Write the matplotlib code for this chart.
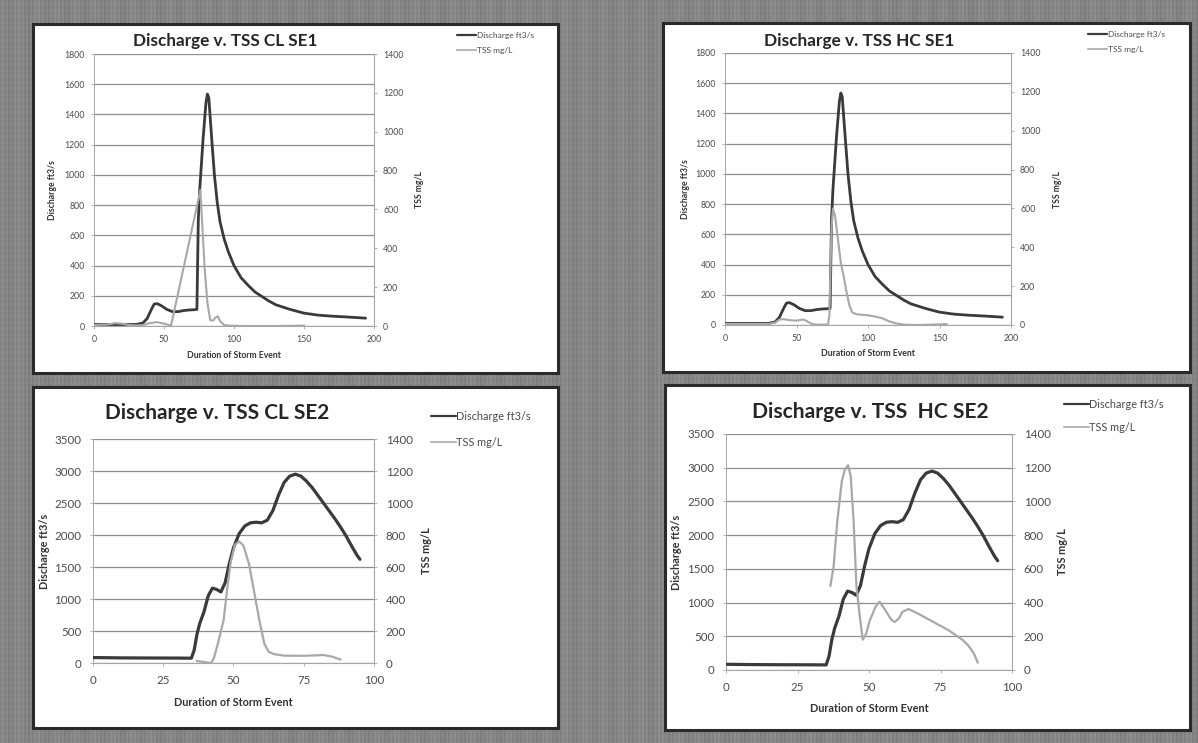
import numpy as np
import matplotlib
matplotlib.use("Agg")
import matplotlib.pyplot as plt
from matplotlib.patches import Rectangle

plt.rcParams['font.family'] = ['Lato', 'DejaVu Sans']

# ---------------- data ----------------
se1_time = [0, 15, 30, 35, 38, 41, 43, 45, 48, 52, 56, 60, 64, 68, 72, 73.5, 74.5, 75.5,
            78, 80, 81, 82, 84, 86, 88, 90, 93, 96, 100, 105, 110, 115, 120, 125, 130,
            140, 150, 160, 170, 180, 194]
se1_discharge = [10, 10, 10, 20, 50, 110, 145, 148, 135, 110, 95, 95, 102, 106, 108, 110, 700, 900,
                 1250, 1480, 1535, 1510, 1250, 1000, 820, 690, 575, 490, 400, 320, 270, 225, 195, 165, 140,
                 110, 85, 72, 65, 60, 52]

cl_se1_tss_time = [0, 10, 15, 20, 25, 30, 35, 40, 45, 50, 55, 60, 65, 70, 74, 76, 77.5, 79, 81,
                   83, 85, 87, 88.5, 90, 93, 96, 110, 130, 150]
cl_se1_tss = [5, 8, 15, 12, 5, 3, 5, 15, 20, 12, 2, 167, 333, 500, 633, 700, 500, 300, 120,
              30, 28, 45, 50, 25, 5, 2, 0, 0, 2]

hc_se1_tss_time = [0, 10, 20, 30, 35, 38, 41, 45, 50, 54, 56, 60, 63, 72, 73, 74.5, 75.5, 77,
                   79, 81, 83, 85, 87, 89, 92, 100, 106, 110, 115, 120, 125, 135, 150, 155]
hc_se1_tss = [5, 5, 5, 5, 12, 28, 30, 25, 22, 28, 25, 8, 2, 2, 50, 500, 600, 560,
              440, 320, 250, 170, 100, 65, 55, 50, 42, 35, 18, 8, 2, 0, 3, 5]

se2_time = [0, 10, 20, 30, 35, 36, 37, 38, 39.5, 41, 42.5, 44, 45.5, 47, 48.5, 50, 52, 54, 56,
            58, 60, 62, 64, 66, 68, 70, 72, 74, 76, 78, 80, 82, 84, 86, 88, 90, 92, 94, 95]
se2_discharge = [85, 80, 78, 77, 75, 200, 450, 620, 800, 1050, 1170, 1150, 1110, 1250, 1550, 1800,
                 2020, 2140, 2190, 2200, 2190, 2230, 2380, 2620, 2820, 2920, 2950, 2920, 2840, 2740,
                 2620, 2500, 2380, 2260, 2130, 1990, 1830, 1680, 1620]

cl_se2_tss_time = [37, 39, 41, 42, 43, 44.5, 46.5, 48, 49, 50.5, 52, 53.5, 55.5, 57.5, 59.5, 61,
                   62.5, 64.5, 68, 75, 80, 82, 85, 88]
cl_se2_tss = [12, 8, 2, 0, 30, 125, 270, 500, 630, 740, 760, 735, 620, 430, 240, 120,
              70, 55, 46, 45, 48, 50, 40, 22]

hc_se2_tss_time = [36.5, 37.6, 38.9, 40.5, 41.6, 42.7, 43.6, 44.6, 45.6, 46.7, 47.8, 49, 50.3,
                   52.3, 53.7, 55.7, 57.7, 59, 60.4, 61.7, 63.8, 67.1, 72.5, 77.9, 82.6, 84.6,
                   86.6, 88]
hc_se2_tss = [500, 610, 880, 1120, 1190, 1215, 1150, 890, 500, 330, 180, 215, 295,
              375, 405, 355, 300, 285, 305, 345, 362, 335, 285, 235, 180, 148, 100, 45]

titles = ["Discharge v. TSS CL SE1", "Discharge v. TSS HC SE1",
          "Discharge v. TSS CL SE2", "Discharge v. TSS  HC SE2"]
legend_labels = ["Discharge ft3/s", "TSS mg/L"]
x_label = "Duration of Storm Event"
left_label = "Discharge ft3/s"
right_label = "TSS mg/L"

se1_xticks = [0, 50, 100, 150, 200]
se1_lticks = [0, 200, 400, 600, 800, 1000, 1200, 1400, 1600, 1800]
se2_xticks = [0, 25, 50, 75, 100]
se2_lticks = [0, 500, 1000, 1500, 2000, 2500, 3000, 3500]
tss_ticks = [0, 200, 400, 600, 800, 1000, 1200, 1400]

# ---------------- layout (pixels) ----------------
W, H = 1198, 743
fig = plt.figure(figsize=(W / 100, H / 100), dpi=100)

# textured grey background
bg = fig.add_axes([0, 0, 1, 1], zorder=-10)
cols = np.arange(W)
rows = np.arange(H)
stripe = 0.50 + 0.035 * ((cols // 2) % 2) + 0.015 * np.cos(cols / 3.0)
hstripe = 0.01 * ((rows // 3) % 2)
img = stripe[None, :] + hstripe[:, None]
bg.imshow(img, cmap='gray', vmin=0, vmax=1, aspect='auto', extent=[0, W, H, 0],
          interpolation='nearest')
bg.set_xlim(0, W)
bg.set_ylim(H, 0)
bg.axis('off')

DIS_C = '#3a3a3a'
TSS_C = '#a8a8a8'
GRID_C = '#8e8e8e'
SPINE_C = '#a6a6a6'
TXT_C = '#4a4a4a'

panels = [
    dict(box=(33, 24, 558, 373), plot=(94, 54, 374, 326), t=se1_time, d=se1_discharge,
         tt=cl_se1_tss_time, tss=cl_se1_tss, xmax=200, ymax=1800, xt=se1_xticks, lt=se1_lticks,
         title=titles[0], title_c=(225, 41), title_w=184, lab_l=53, lab_r=419, lab_x=355,
         leg=(457, 38, 57), fs=6.3, lfs=6.0, afs=6.2, dlw=2.0, tlw=1.5, pad=4.0),
    dict(box=(663, 23, 1190, 372), plot=(725, 53, 1011, 325), t=se1_time, d=se1_discharge,
         tt=hc_se1_tss_time, tss=hc_se1_tss, xmax=200, ymax=1800, xt=se1_xticks, lt=se1_lticks,
         title=titles[1], title_c=(859, 41), title_w=190, lab_l=686, lab_r=1057, lab_x=353,
         leg=(1088, 37, 56), fs=6.3, lfs=6.0, afs=6.2, dlw=2.0, tlw=1.5, pad=4.0),
    dict(box=(33, 387, 558, 728), plot=(93, 439, 374, 663), t=se2_time, d=se2_discharge,
         tt=cl_se2_tss_time, tss=cl_se2_tss, xmax=100, ymax=3500, xt=se2_xticks, lt=se2_lticks,
         title=titles[2], title_c=(217, 413), title_w=224, lab_l=44, lab_r=427, lab_x=702,
         leg=(431, 419, 448), fs=8.3, lfs=7.8, afs=7.8, dlw=2.3, tlw=1.6, pad=6.0),
    dict(box=(665, 385, 1190, 730), plot=(726, 434, 1012, 670), t=se2_time, d=se2_discharge,
         tt=hc_se2_tss_time, tss=hc_se2_tss, xmax=100, ymax=3500, xt=se2_xticks, lt=se2_lticks,
         title=titles[3], title_c=(870, 412), title_w=235, lab_l=677, lab_r=1062, lab_x=708,
         leg=(1064, 407, 433), fs=8.3, lfs=7.8, afs=7.8, dlw=2.3, tlw=1.6, pad=6.0),
]

title_texts = []
for p in panels:
    bx0, by0, bx1, by1 = p['box']
    fig.add_artist(Rectangle((bx0 / W, 1 - by1 / H), (bx1 - bx0) / W, (by1 - by0) / H,
                             transform=fig.transFigure, facecolor='white',
                             edgecolor='#2a2a2a', linewidth=2.2, zorder=-5))
    x0, y0, x1, y1 = p['plot']
    pw, ph = x1 - x0, y1 - y0
    ax = fig.add_axes([x0 / W, 1 - y1 / H, pw / W, ph / H])
    ax.set_facecolor('none')
    ax2 = ax.twinx()

    l1, = ax.plot(p['t'], p['d'], color=DIS_C, lw=p['dlw'], solid_joinstyle='round',
                  solid_capstyle='round', zorder=3)
    l2, = ax2.plot(p['tt'], p['tss'], color=TSS_C, lw=p['tlw'], solid_joinstyle='round',
                   zorder=3)

    ax.set_xlim(0, p['xmax'])
    ax.set_ylim(0, p['ymax'])
    ax2.set_ylim(0, 1400)
    ax.set_xticks(p['xt'])
    ax.set_yticks(p['lt'])
    ax2.set_yticks(tss_ticks)
    ax.grid(axis='y', color=GRID_C, lw=0.9)
    ax.set_axisbelow(True)

    for s in ['top', 'left', 'right']:
        ax.spines[s].set_visible(False)
    ax.spines['bottom'].set_color(SPINE_C)
    ax.spines['left'].set_visible(True)
    ax.spines['left'].set_color(SPINE_C)
    ax.spines['left'].set_linewidth(0.7)
    for s in ['top', 'left', 'bottom']:
        ax2.spines[s].set_visible(False)
    ax2.spines['right'].set_color(SPINE_C)
    ax2.spines['right'].set_linewidth(0.8)

    ax.tick_params(axis='both', labelsize=p['fs'], colors=TXT_C, length=2.5, width=0.6,
                   pad=p['pad'])
    ax.tick_params(axis='both', color=SPINE_C)
    ax2.tick_params(axis='y', labelsize=p['fs'], colors=TXT_C, length=2.5, width=0.6,
                    pad=p['pad'])
    ax2.tick_params(axis='y', color=SPINE_C)

    ax.set_xlabel(x_label, fontsize=p['afs'], fontweight='bold', color='#333333', va='center')
    ax.xaxis.set_label_coords(0.5, (y1 - p['lab_x']) / ph)
    ax.set_ylabel(left_label, fontsize=p['afs'], fontweight='bold', color='#333333', va='center')
    ax.yaxis.set_label_coords((p['lab_l'] - x0) / pw, 0.5)
    ax2.set_ylabel(right_label, fontsize=p['afs'], fontweight='bold', color='#333333',
                   va='center', rotation=90)
    ax2.yaxis.set_label_coords((p['lab_r'] - x0) / pw, 0.5)

    tcx, tcy = p['title_c']
    tt = ax.text((tcx - x0) / pw, (y1 - tcy) / ph, p['title'], transform=ax.transAxes,
                 ha='center', va='center', fontsize=12, fontweight='bold', color='#262626')
    title_texts.append((tt, p['title_w']))

    lx, ly1, ly2 = p['leg']
    fpx = p['lfs'] * 100 / 72.0
    leg = ax.legend([l1, l2], legend_labels, loc='upper left',
                    bbox_to_anchor=(lx / W, 1 - (ly1 - 0.75 * fpx) / H),
                    bbox_transform=fig.transFigure, frameon=False, fontsize=p['lfs'],
                    handlelength=2.3, handletextpad=0.05, borderpad=0, borderaxespad=0,
                    labelspacing=((ly2 - ly1) - 1.2 * fpx) / fpx * 0.95)
    for t in leg.get_texts():
        t.set_color(TXT_C)
    leg.get_lines()[0].set_linewidth(1.6)
    leg.get_lines()[1].set_linewidth(1.2)

# fit title widths
renderer = fig.canvas.get_renderer()
for tt, target in title_texts:
    w = tt.get_window_extent(renderer).width
    tt.set_fontsize(12 * target / w)

fig.savefig('out.png', dpi=100)
